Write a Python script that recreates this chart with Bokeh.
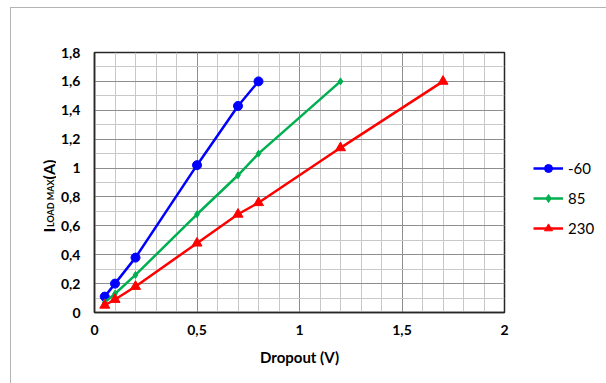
import math
from bokeh.plotting import figure
from bokeh.layouts import row
from bokeh.models import (Legend, LegendItem, Label, SingleIntervalTicker,
                          CustomJSTickFormatter, Range1d)
from bokeh.embed import file_html
from bokeh.resources import INLINE

# ---- data ----
x_m60 = [0.05, 0.1, 0.2, 0.5, 0.7, 0.8]
y_m60 = [0.11, 0.20, 0.38, 1.02, 1.43, 1.60]

x_85 = [0.05, 0.1, 0.2, 0.5, 0.7, 0.8, 1.2]
y_85 = [0.07, 0.13, 0.26, 0.68, 0.95, 1.10, 1.60]

x_230 = [0.05, 0.1, 0.2, 0.5, 0.7, 0.8, 1.2, 1.7]
y_230 = [0.05, 0.09, 0.18, 0.48, 0.68, 0.76, 1.14, 1.60]

series_names = ["-60", "85", "230"]
series_colors = ["#0000FF", "#00B050", "#FF0000"]
series_markers = ["circle", "diamond", "triangle"]
series_sizes = [9, 7, 10]
x_label = "Dropout (V)"
y_label_main = "I"
y_label_sub = "LOAD MAX"
y_label_unit = "(A)"

FONT = "Lato"
BORDER = "#b4b4b4"
H = 383


def side(width, xr, yr):
    f = figure(width=width, height=H, output_backend="svg",
               toolbar_location=None, x_range=xr, y_range=yr,
               x_axis_type=None, y_axis_type=None, min_border=0)
    f.outline_line_color = None
    f.grid.visible = False
    f.background_fill_alpha = 0
    f.border_fill_alpha = 0
    return f


# ---- left strip: y axis title with subscript (frame is aligned to main frame) ----
lab = side(56, Range1d(0, 56), Range1d(71, 331))   # data y = 383 - page y
ang = math.pi / 2
lab.add_layout(Label(x=48, y=151, text=y_label_main, angle=ang,
                     text_font=FONT, text_font_style="bold", text_font_size="16px",
                     text_color="black", text_align="left",
                     text_baseline="alphabetic"))
lab.add_layout(Label(x=49.5, y=156.5, text=y_label_sub, angle=ang,
                     text_font=FONT, text_font_style="bold", text_font_size="9px",
                     text_color="black", text_align="left",
                     text_baseline="alphabetic"))
lab.add_layout(Label(x=48, y=204, text=y_label_unit, angle=ang,
                     text_font=FONT, text_font_style="bold", text_font_size="16px",
                     text_color="black", text_align="left",
                     text_baseline="alphabetic"))

# ---- main chart ----
p = figure(width=464, height=H, output_backend="svg", toolbar_location=None,
           x_range=Range1d(0, 2), y_range=Range1d(0, 1.8),
           min_border_left=38, min_border_right=16, min_border_top=52,
           min_border_bottom=71)
p.background_fill_color = "white"
p.border_fill_alpha = 0
p.outline_line_color = "#262626"
p.outline_line_width = 1.5

p.xaxis.ticker = SingleIntervalTicker(interval=0.5, num_minor_ticks=5)
p.yaxis.ticker = SingleIntervalTicker(interval=0.2, num_minor_ticks=2)
code = """
    var v = Math.round(tick*10)/10;
    return v.toString().replace('.', ',');
"""
p.xaxis.formatter = CustomJSTickFormatter(code=code)
p.yaxis.formatter = CustomJSTickFormatter(code=code)
for ax in (p.xaxis, p.yaxis):
    ax.major_tick_out = 0
    ax.major_tick_in = 0
    ax.minor_tick_out = 0
    ax.minor_tick_in = 0
    ax.axis_line_color = "#262626"
    ax.axis_line_width = 1.5
    ax.major_label_text_font = FONT
    ax.major_label_text_font_style = "bold"
    ax.major_label_text_font_size = "14px"
    ax.major_label_text_color = "black"
p.yaxis.major_label_standoff = 14
p.xaxis.major_label_standoff = 12
p.xaxis.axis_label = x_label
p.xaxis.axis_label_text_font = FONT
p.xaxis.axis_label_text_font_style = "bold"
p.xaxis.axis_label_text_font_size = "15px"
p.xaxis.axis_label_text_color = "black"
p.xaxis.axis_label_standoff = 10

p.xgrid.grid_line_color = "#8e8e8e"
p.ygrid.grid_line_color = "#8e8e8e"
p.xgrid.minor_grid_line_color = "#c8c8c8"
p.ygrid.minor_grid_line_color = "#c8c8c8"
p.xgrid.level = "underlay"
p.ygrid.level = "underlay"

series = [(x_m60, y_m60), (x_85, y_85), (x_230, y_230)]
for (xs, ys), c, m, s in zip(series, series_colors, series_markers, series_sizes):
    p.line(xs, ys, line_color=c, line_width=2.5)
    p.scatter(xs, ys, marker=m, size=s, fill_color=c, line_color=c)

# ---- right strip: legend; key renderers reuse the series data, kept off-range ----
leg = side(86, Range1d(10, 11), Range1d(10, 11))
items = []
for (xs, ys), name, c, m, s in zip(series, series_names, series_colors,
                                    series_markers, series_sizes):
    lr = leg.line(xs, ys, line_color=c, line_width=2.5)
    sr = leg.scatter(xs, ys, marker=m, size=s, fill_color=c, line_color=c)
    items.append(LegendItem(label=name, renderers=[lr, sr]))
legend = Legend(items=items, location=(13, 74))
legend.border_line_color = None
legend.background_fill_alpha = 0
legend.padding = 0
legend.margin = 0
legend.spacing = 10
legend.glyph_width = 30
legend.glyph_height = 20
legend.label_standoff = 5
legend.label_text_font = FONT
legend.label_text_font_size = "15px"
legend.label_text_color = "black"
legend.label_height = 20
leg.add_layout(legend)

layout = row(lab, p, leg, spacing=0)
# chart-area border: thin grey lines at the left and top, drawn behind the canvases
layout.styles = {
    "background": (f"linear-gradient({BORDER}, {BORDER}) 10px 7px / 1px 100% no-repeat, "
                   f"linear-gradient({BORDER}, {BORDER}) 10px 7px / 100% 1px no-repeat, "
                   "white"),
}

open("out.html", "w").write(file_html(layout, INLINE))
